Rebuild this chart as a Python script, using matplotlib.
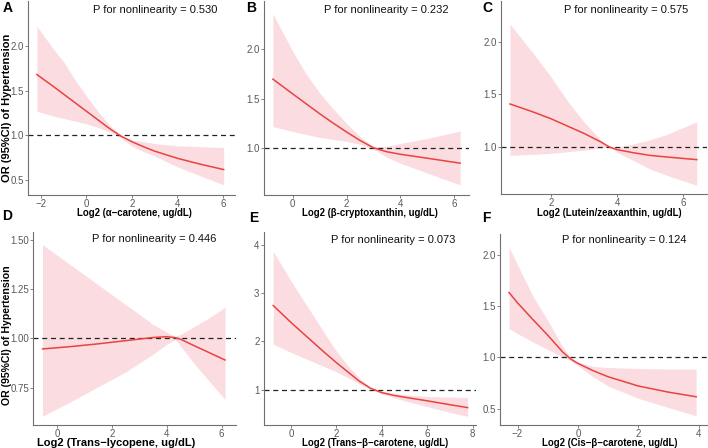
import matplotlib
matplotlib.use("Agg")
import matplotlib.pyplot as plt

plt.rcParams['font.family'] = ['Liberation Sans', 'DejaVu Sans']

# ---------------- data ----------------
labels = ["A", "B", "C", "D", "E", "F"]
p_texts = ["0.530", "0.232", "0.575", "0.446", "0.073", "0.124"]
xlabels = ["Log2 (\u03b1\u2212carotene, ug/dL)",
           "Log2 (\u03b2-cryptoxanthin, ug/dL)",
           "Log2 (Lutein/zeaxanthin, ug/dL)",
           "Log2 (Trans\u2212lycopene, ug/dL)",
           "Log2 (Trans\u2212\u03b2\u2212carotene, ug/dL)",
           "Log2 (Cis\u2212\u03b2\u2212carotene, ug/dL)"]

xA = [-2.18, -1.5, -1, -0.5, 0, 0.5, 1, 1.5, 2, 2.5, 3, 4, 5, 6.03]
estA = [1.68, 1.555, 1.46, 1.365, 1.27, 1.175, 1.08, 0.995, 0.93, 0.875, 0.825, 0.745, 0.68, 0.62]
upA = [2.22, 1.98, 1.82, 1.62, 1.44, 1.27, 1.12, 1.005, 0.95, 0.93, 0.91, 0.885, 0.875, 0.866]
loA = [1.27, 1.22, 1.19, 1.16, 1.13, 1.09, 1.04, 0.975, 0.88, 0.82, 0.77, 0.65, 0.55, 0.45]

xB = [-0.74, 0, 0.5, 1, 1.5, 2, 2.5, 3.0, 3.5, 4, 5, 6.22]
estB = [1.70, 1.55, 1.45, 1.35, 1.255, 1.165, 1.08, 1.005, 0.965, 0.94, 0.90, 0.85]
upB = [2.36, 1.98, 1.75, 1.56, 1.40, 1.25, 1.12, 1.015, 1.02, 1.05, 1.10, 1.175]
loB = [1.22, 1.17, 1.14, 1.11, 1.09, 1.07, 1.04, 0.99, 0.91, 0.85, 0.75, 0.63]

xC = [0.77, 1.5, 2, 2.5, 3, 3.5, 3.77, 4, 4.5, 5, 5.5, 6.4]
estC = [1.41, 1.33, 1.27, 1.20, 1.13, 1.05, 1.00, 0.975, 0.945, 0.92, 0.905, 0.88]
upC = [2.17, 1.88, 1.67, 1.44, 1.24, 1.07, 1.00, 1.00, 1.03, 1.07, 1.12, 1.24]
loC = [0.92, 0.93, 0.94, 0.955, 0.97, 0.99, 1.00, 0.95, 0.87, 0.79, 0.73, 0.635]

xD = [-0.54, 0.5, 1.5, 2.5, 3.5, 4.0, 4.3, 4.5, 5.0, 5.5, 6.12]
estD = [0.946, 0.958, 0.972, 0.988, 1.004, 1.008, 1.003, 0.995, 0.962, 0.93, 0.89]
upD = [1.474, 1.37, 1.27, 1.17, 1.07, 1.03, 1.01, 1.02, 1.06, 1.10, 1.157]
loD = [0.605, 0.68, 0.755, 0.83, 0.92, 0.97, 0.995, 0.96, 0.87, 0.79, 0.69]

xE = [-0.78, 0, 0.5, 1, 1.5, 2, 2.5, 3, 3.5, 4, 4.5, 5, 6, 7, 7.78]
estE = [2.74, 2.39, 2.18, 1.97, 1.76, 1.56, 1.37, 1.18, 1.03, 0.94, 0.885, 0.845, 0.77, 0.69, 0.63]
upE = [3.86, 3.25, 2.88, 2.52, 2.15, 1.80, 1.50, 1.25, 1.05, 0.97, 0.93, 0.90, 0.86, 0.845, 0.84]
loE = [1.94, 1.77, 1.67, 1.57, 1.47, 1.37, 1.25, 1.12, 1.01, 0.91, 0.84, 0.77, 0.65, 0.53, 0.45]

xF = [-2.28, -2, -1.5, -1, -0.5, -0.25, 0, 0.5, 1, 2, 3, 3.92]
estF = [1.63, 1.53, 1.37, 1.215, 1.05, 0.985, 0.94, 0.87, 0.81, 0.72, 0.66, 0.615]
upF = [2.07, 1.90, 1.60, 1.36, 1.10, 1.00, 0.955, 0.91, 0.90, 0.89, 0.885, 0.885]
loF = [1.28, 1.23, 1.15, 1.075, 1.00, 0.97, 0.92, 0.81, 0.72, 0.60, 0.51, 0.43]

series = [(xA, estA, upA, loA), (xB, estB, upB, loB), (xC, estC, upC, loC),
          (xD, estD, upD, loD), (xE, estE, upE, loE), (xF, estF, upF, loF)]

xticks = [[-2, 0, 2, 4, 6], [0, 2, 4, 6], [2, 4, 6], [0, 2, 4, 6], [0, 2, 4, 6, 8], [-2, 0, 2, 4]]
yticks = [[0.5, 1.0, 1.5, 2.0], [1.0, 1.5, 2.0], [1.0, 1.5, 2.0],
          [0.75, 1.00, 1.25, 1.50], [1, 2, 3, 4], [0.5, 1.0, 1.5, 2.0]]
ytick_labels = [["0.5", "1.0", "1.5", "2.0"], ["1.0", "1.5", "2.0"], ["1.0", "1.5", "2.0"],
                ["0.75", "1.00", "1.25", "1.50"], ["1", "2", "3", "4"],
                ["0.5", "1.0", "1.5", "2.0"]]

# ---------------- layout ----------------
W, H = 708, 448
fig = plt.figure(figsize=(W / 100, H / 100), dpi=100)

# pixel rects: left, right, top, bottom
rects = [(28, 235, 1, 195), (264, 469, 1, 195), (500.7, 707, 1, 194.3),
         (33.3, 236, 232, 425), (263.7, 476, 232, 425), (500, 707, 234, 425)]
xlims = [(-2.57, 6.53), (-1.07, 6.55), (0.49, 6.71), (-0.876, 6.52), (-1.20, 8.15), (-2.58, 4.28)]
ylims = [(0.336, 2.50), (0.528, 2.49), (0.55, 2.39), (0.561, 1.538), (0.27, 4.26), (0.34, 2.2)]
p_pos = [(155.5, 10), (386.7, 10), (625.8, 10), (154, 239), (393.5, 240), (624, 240)]
lab_pos = [(3, 8), (246, 8), (482, 8), (2, 216), (249, 218), (482, 218)]
xlab_pos = [(134, 213), (370, 213), (609, 213), (116, 443), (375, 443), (610, 443)]
xlab_size = [6.9, 6.9, 6.9, 8.0, 6.9, 6.9]

line_col = "#E8433F"
fill_col = "#FBDDE1"
spine_col = "#6f6f6f"
tick_col = "#5a5a5a"

for i in range(6):
    l, r, t, b = rects[i]
    ax = fig.add_axes([l / W, 1 - b / H, (r - l) / W, (b - t) / H])
    x, est, up, lo = series[i]
    ax.fill_between(x, lo, up, color=fill_col, lw=0, zorder=1)
    ax.axhline(1.0, color="#222222", lw=0.9, ls=(0, (4, 3)), zorder=2)
    ax.plot(x, est, color=line_col, lw=1.1, zorder=3)
    ax.set_xlim(*xlims[i])
    ax.set_ylim(*ylims[i])
    ax.set_xticks(xticks[i])
    ax.set_yticks(yticks[i])
    ax.set_yticklabels(ytick_labels[i])
    ax.set_xticklabels([str(v) if v >= 0 else "\u2212" + str(-v) for v in xticks[i]])
    for s in ["top", "right"]:
        ax.spines[s].set_visible(False)
    for s in ["left", "bottom"]:
        ax.spines[s].set_color(spine_col)
        ax.spines[s].set_linewidth(0.8)
    ax.tick_params(axis="both", length=2, width=0.6, color=spine_col,
                   labelcolor=tick_col, labelsize=7.0, pad=1.0)
    fig.text(p_pos[i][0] / W, 1 - p_pos[i][1] / H, "P for nonlinearity = " + p_texts[i],
             ha="center", va="center", fontsize=8, color="#111111")
    fig.text(lab_pos[i][0] / W, 1 - lab_pos[i][1] / H, labels[i],
             ha="left", va="center", fontsize=10, fontweight="bold")
    fig.text(xlab_pos[i][0] / W, 1 - xlab_pos[i][1] / H, xlabels[i],
             ha="center", va="center", fontsize=xlab_size[i], fontweight="bold")

fig.text(7 / W, 1 - 108 / H, "OR (95%CI) of Hypertension", rotation=90,
         ha="center", va="center", fontsize=8, fontweight="bold")
fig.text(7 / W, 1 - 335 / H, "OR (95%CI) of Hypertension", rotation=90,
         ha="center", va="center", fontsize=7.6, fontweight="bold")

fig.savefig("out.png", dpi=100)
